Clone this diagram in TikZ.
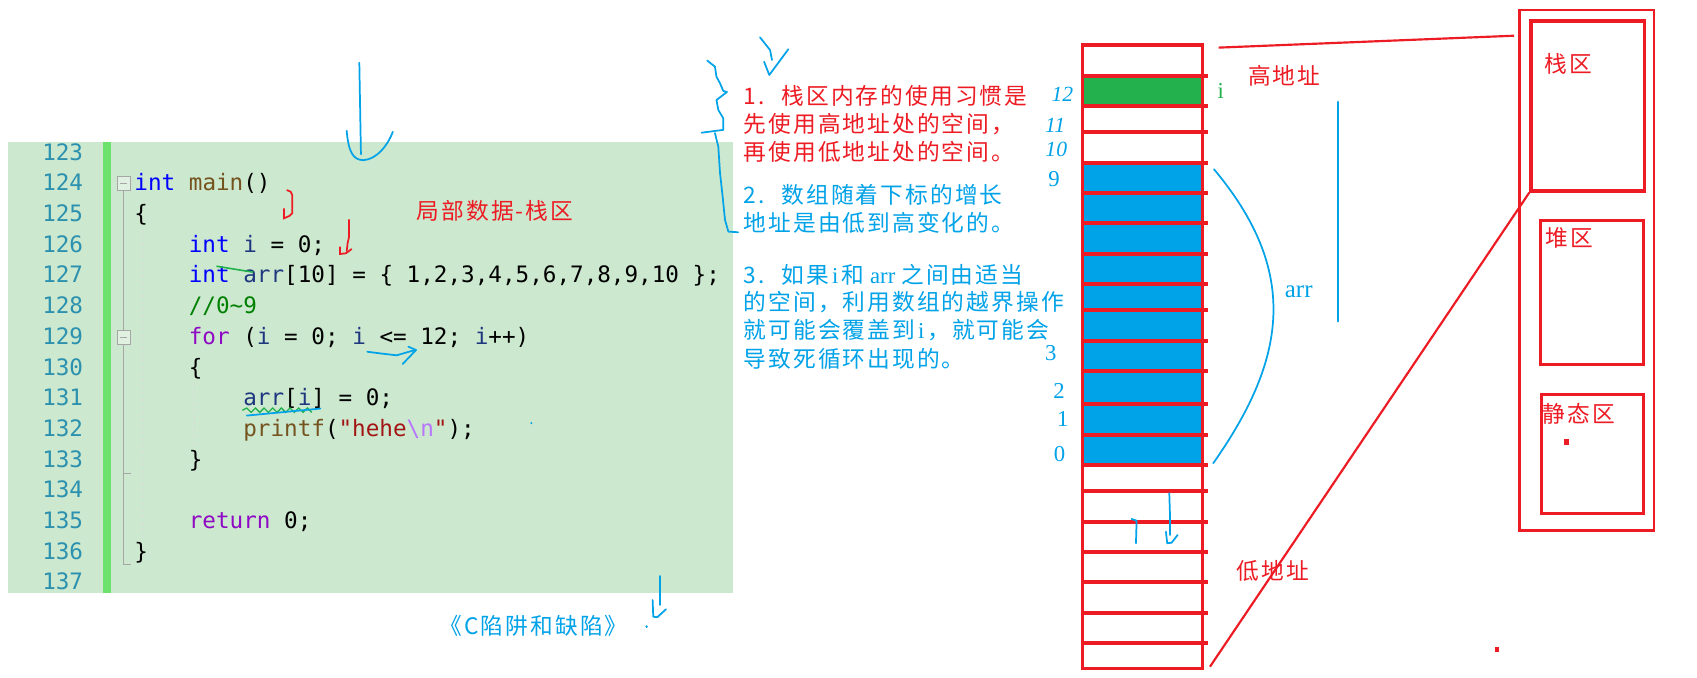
\documentclass[tikz,border=0pt]{standalone}
\usepackage{fontspec}
\setmainfont{Liberation Serif}
\setmonofont{DejaVu Sans Mono}
\newfontfamily\cjk[LetterSpace=9]{Noto Sans CJK SC}
\usetikzlibrary{positioning}

\definecolor{penred}{RGB}{237,28,36}
\definecolor{penblue}{RGB}{0,162,232}
\definecolor{pengreen}{RGB}{34,177,76}
\definecolor{eyegreen}{RGB}{204,232,207}
\definecolor{margingreen}{RGB}{108,226,108}
\definecolor{linenum}{RGB}{43,145,175}
\definecolor{kwblue}{RGB}{0,0,255}
\definecolor{ctlpurple}{RGB}{143,8,196}
\definecolor{fnbrown}{RGB}{116,83,31}
\definecolor{varblue}{RGB}{31,55,127}
\definecolor{strred}{RGB}{163,21,21}
\definecolor{escpurple}{RGB}{183,118,251}
\definecolor{cmtgreen}{RGB}{0,128,0}

\newcommand{\ckw}[1]{\textcolor{kwblue}{#1}}
\newcommand{\cctl}[1]{\textcolor{ctlpurple}{#1}}
\newcommand{\cfn}[1]{\textcolor{fnbrown}{#1}}
\newcommand{\cvar}[1]{\textcolor{varblue}{#1}}
\newcommand{\cstr}[1]{\textcolor{strred}{#1}}
\newcommand{\cesc}[1]{\textcolor{escpurple}{#1}}
\newcommand{\ccmt}[1]{\textcolor{cmtgreen}{#1}}

\begin{document}
\begin{tikzpicture}[x=1pt, y=-1pt, every node/.style={inner sep=0pt},
	lineno/.style={anchor=base east, text=linenum, font=\fontsize{20.9}{25}\ttfamily},
	codeline/.style={anchor=base west, font=\fontsize{20.9}{25}\ttfamily},
	note/.style={anchor=base west, font=\fontsize{21}{26}\cjk},
	memnum/.style={text=penblue, font=\fontsize{21}{21}\rmfamily},
	handnum/.style={text=penblue, font=\fontsize{20}{20}\rmfamily\itshape},
	zone/.style={draw=penred, line width=3pt, anchor=north west},
	redpen/.style={draw=penred, line width=2pt},
	bluepen/.style={draw=penblue, line width=1.6pt, line cap=round, line join=round},
	cell/.style={draw=penred, line width=3pt}]
	\fill[white] (0,0) rectangle (1568,626);
	\useasboundingbox (0,0) rectangle (1568,626);

	\fill[eyegreen] (7,131) rectangle (677,548);
	\fill[margingreen] (95,131) rectangle (103,548);
	\draw[gray!30, dashed] (131,212) -- (131,496);
	\draw[gray!30, dashed] (179,354) -- (179,412);
	\draw[gray!70] (114,176) -- (114,305);
	\draw[gray!70] (114,318) -- (114,521) -- (121,521);
	\draw[gray!70] (114,437) -- (121,437);
	\draw[gray!70, fill=white!40!eyegreen] (108,163) rectangle (120,176);
	\draw[gray!70] (111,169.5) -- (117,169.5);
	\draw[gray!70, fill=white!40!eyegreen] (108,305) rectangle (120,318);
	\draw[gray!70] (111,311.5) -- (117,311.5);

	\foreach \n [count=\k from 0] in {123,...,137}
		\node[lineno] (ln\n) at (77,{148+\k*28.36}) {\n};

	\node[codeline] (c124) at (124,176.4) {\ckw{int} \cfn{main}()};
	\node[codeline] (c125) at (124,204.7) {\{};
	\node[codeline] (c126) at (174.3,233.1) {\ckw{int} \cvar{i} = 0;};
	\node[codeline] (c127) at (174.3,261.4) {\ckw{int} \cvar{arr}[10] = \{ 1,2,3,4,5,6,7,8,9,10 \};};
	\node[codeline] (c128) at (174.3,289.8) {\ccmt{//0\textasciitilde{}9}};
	\node[codeline] (c129) at (174.3,318.2) {\cctl{for} (\cvar{i} = 0; \cvar{i} <= 12; \cvar{i}++)};
	\node[codeline] (c130) at (174.3,346.5) {\{};
	\node[codeline] (c131) at (224.6,374.9) {\cvar{arr}[\cvar{i}] = 0;};
	\node[codeline] (c132) at (224.6,403.2) {\cfn{printf}(\cstr{"hehe}\cesc{\textbackslash{}n}\cstr{"});};
	\node[codeline] (c133) at (174.3,431.6) {\}};
	\node[codeline] (c135) at (174.3,488.3) {\cctl{return} 0;};
	\node[codeline] (c136) at (124,516.7) {\}};

	\draw[pengreen, line width=1.2pt] (224,379) \foreach \k in {1,...,16} {-- ({224+\k*4},{379+2*(-1)^\k})};
	\draw[bluepen] (228,384) -- (296,377.5);
	\draw[pengreen, line width=1.5pt] (200,246) -- (234,251.5);
	\draw[bluepen] (339.4,325) -- (351.1,326.5) -- (366.5,328.3) -- (383.4,323.4);
	\draw[bluepen] (377.3,320.3) -- (384.4,323.4) -- (372.1,336.3);
	\draw[redpen, line width=1.6pt] (264.9,175.6) -- (268.6,177.1) -- (270,180.2) -- (270,197.1) -- (267.3,199.6) -- (262.4,201.7) -- (262.4,192.5);
	\draw[redpen, line width=1.6pt] (322.5,202.6) -- (322.5,218.7) -- (321.2,224.8) -- (320.3,232.5);
	\draw[redpen, line width=1.6pt] (314.2,227.9) -- (314.2,234.7) -- (319.7,234) -- (325,230);
	\draw[bluepen] (332,58) -- (333.5,142.5);
	\draw[bluepen] (320.3,120.8) .. controls (322,140) and (326,148) .. (336,148) .. controls (348,147) and (358,135) .. (363,121.7);
	\draw[bluepen] (609.8,532.2) -- (609.8,559);
	\draw[bluepen] (603,554.4) -- (603.6,569.8) -- (607.3,570.3) -- (615.3,563);
	\fill[penblue] (597.5,579) circle (1.3);
	\fill[penblue] (491,391) circle (1);

	\node[note, text=penred] (stacknote) at (385,203) {局部数据-栈区};
	\node[note, text=penblue] (book) at (406,586) {《C陷阱和缺陷》};

	\draw[bluepen] (653.5,56) -- (660.6,61.6) -- (662,70.9) -- (665.3,77) -- (668.3,84) -- (671.7,85) -- (662,92.4) -- (663.7,101.6) -- (668.3,109.3) -- (668.3,120) -- (648.3,122.6);
	\draw[bluepen] (660.6,123) -- (663.7,135.5) -- (665.3,160) -- (667.7,181.7) -- (669.9,203.3) -- (673,214) -- (682,214.6);
	\draw[bluepen] (702.2,34.5) -- (711.5,46.2) -- (713.3,55.4);
	\draw[bluepen] (706,57) -- (710.8,69.3) -- (728.4,45.5);

	\node[note, text=penred] (r1) at (687,96.5) {\makebox[35pt][l]{1.}栈区内存的使用习惯是};
	\node[note, text=penred] (r2) at (687,122) {先使用高地址处的空间，};
	\node[note, text=penred] (r3) at (687,148.5) {再使用低地址处的空间。};
	\node[note, text=penblue] (b1) at (687,188) {\makebox[35pt][l]{2.}数组随着下标的增长};
	\node[note, text=penblue] (b2) at (687,214) {地址是由低到高变化的。};
	\node[note, text=penblue] (b3) at (687,261.5) {\makebox[35pt][l]{3.}如果\makebox[11.4pt]{\rmfamily i}和\makebox[34.3pt]{\rmfamily arr}之间由适当};
	\node[note, text=penblue] (b4) at (687,287) {的空间，利用数组的越界操作};
	\node[note, text=penblue] (b5) at (687,313) {就可能会覆盖到\makebox[11.4pt]{\rmfamily i}，就可能会};
	\node[note, text=penblue] (b6) at (687,339.5) {导致死循环出现的。};

	\fill[pengreen] (1000,70.2) rectangle (1111,98);
	\fill[penblue] (1000,150.6) rectangle (1111,429.6);
	\foreach \y in {70.2,98,122,150.6,178.3,206,234.7,262.4,286.4,315,342.8,373.3,402,429.6,453.7,482.3,510,537.7,566.4,594}
		\draw[cell] (999,\y) -- (1116,\y);
	\draw[cell] (1000,41.6) rectangle (1111,618);
	\coordinate (memtop) at (1126,44);
	\coordinate (membot) at (1118,616);
	\coordinate (areaedge) at (1399,33);

	\node[handnum] (h12) at (981.7,87) {12};
	\node[handnum] (h11) at (975,116) {11};
	\node[handnum] (h10) at (976,138) {10};
	\node[memnum] (n9) at (974,165.5) {9};
	\node[memnum] (n3) at (971,326) {3};
	\node[memnum] (n2) at (978.5,361) {2};
	\node[memnum] (n1) at (982,387.5) {1};
	\node[memnum] (n0) at (979,419.7) {0};
	\node[text=pengreen, font=\fontsize{21}{21}\rmfamily] (ilabel) at (1128,84) {i};
	\node[memnum, font=\fontsize{23}{23}\rmfamily] (arrlabel) at (1200,270) {arr};
	\node[note, text=penred] (high) at (1153,78) {高地址};
	\node[note, text=penred] (low) at (1142.7,535) {低地址};

	\draw[bluepen] (1121.7,156.4) .. controls (1200,250) and (1190,330) .. (1121,428);
	\draw[bluepen] (1236.5,94) -- (1236.5,297);
	\draw[bluepen] (1080.4,455.8) -- (1081,474.3) -- (1081,494.3);
	\draw[bluepen] (1077.3,491.3) -- (1078.5,502) -- (1082.6,501.4) -- (1088.1,494.3);
	\draw[bluepen] (1045.6,479.5) -- (1050.2,481.1) -- (1049.6,502);

	\node[zone, line width=2.5pt, minimum width=124pt, minimum height=481pt] (memarea) at (1403,8) {};
	\node[zone, minimum width=105pt, minimum height=157pt] (stackbox) at (1413,18) {};
	\node[zone, minimum width=95pt, minimum height=133pt] (heapbox) at (1422,202) {};
	\node[zone, minimum width=94pt, minimum height=110pt] (staticbox) at (1423,363) {};
	\node[note, text=penred] (stacklbl) at (1427,67) {栈区};
	\node[note, text=penred] (heaplbl) at (1428,228) {堆区};
	\node[note, text=penred] (staticlbl) at (1425,390) {静态区};
	\fill[penred] (1445,406) rectangle (1450,411);
	\fill[penred] (1381,598) rectangle (1385,602);

	\draw[redpen] (memtop) -- (areaedge);
	\draw[redpen] (membot) -- (stackbox.south west);
\end{tikzpicture}
\end{document}
